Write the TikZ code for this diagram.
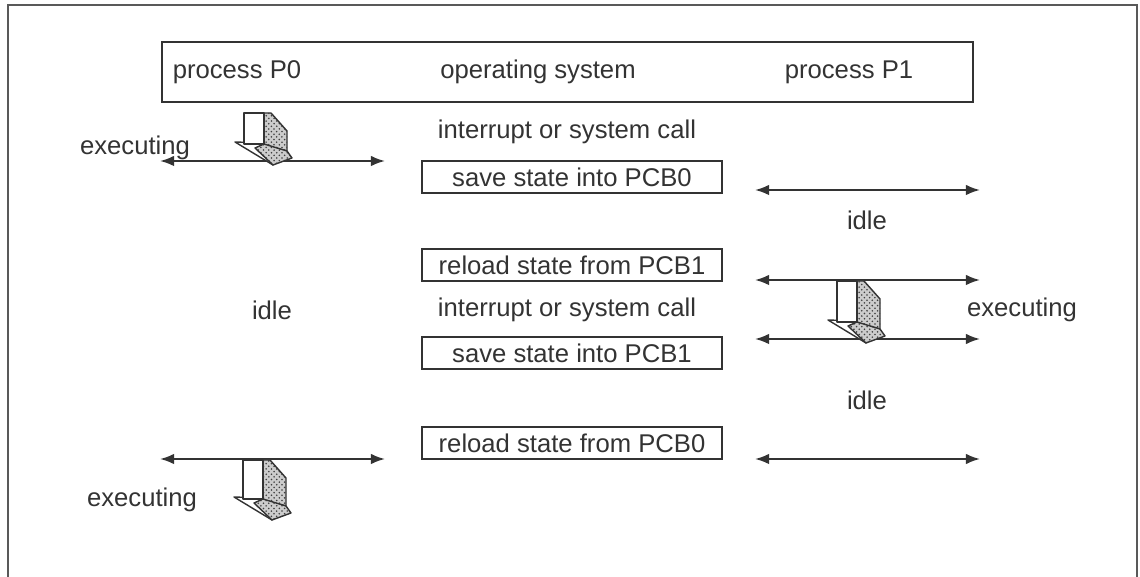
\documentclass[tikz,border=0pt]{standalone}
\usepackage{fontspec}
\setmainfont{Liberation Sans}
\usetikzlibrary{arrows.meta,patterns}
\definecolor{ink}{HTML}{333333}
\tikzset{
  lbl/.style={text=ink, font=\fontsize{14.6}{17}\selectfont, inner sep=0pt},
  osbox/.style={draw=ink, line width=1.1pt, text=ink, font=\fontsize{14.6}{17}\selectfont,
    minimum width=6cm, minimum height=0.64cm, inner sep=0pt},
  span/.style={draw=ink, line width=1.1pt, {Latex[length=8pt,width=6pt]}-{Latex[length=8pt,width=6pt]}},
  front/.style={draw=ink, line width=0.8pt, fill=white, line join=round},
  shadefill/.style={fill=gray!40},
  shadedots/.style={pattern=crosshatch dots, pattern color=black!75},
  shadeline/.style={draw=ink, line width=0.8pt, line join=round},
}
\newcommand{\shadedpoly}[1]{%
  \fill[shadefill] #1; \fill[shadedots] #1; \draw[shadeline] #1;}
\newcommand{\downicon}[3]{% x, y (top-left of shaft), shaft length
  \begin{scope}[shift={(#1,#2)}]
    \shadedpoly{(20,0) -- (27,0) -- (43,18) -- (43,#3+8) -- (20,#3+2) -- cycle}
    \draw[front] (-9,#3-1) -- (20,#3) -- (29,#3+22) -- cycle;
    \shadedpoly{(11,#3+5) -- (20,#3+1) -- (43,#3+8) -- (48,#3+15) -- (29,#3+22) -- cycle}
    \draw[front] (0,0) rectangle (20,#3+1);
  \end{scope}}
\begin{document}
\begin{tikzpicture}[x=0.02cm, y=-0.02cm]
\useasboundingbox (0,0) rectangle (1140,577);
% outer frame (open at bottom)
\draw[gray!70!black, line width=1.6pt] (8,577) -- (8,5) -- (1137,5) -- (1137,577);
% header box
\node[draw=ink, line width=1.1pt, minimum width=16.22cm, minimum height=1.2cm, inner sep=0pt] (hdr) at (567.5,72) {};
\node[lbl] (p0) at (237,72) {process P0};
\node[lbl] (os) at (538,72) {operating system};
\node[lbl] (p1) at (849,72) {process P1};
% OS column
\node[lbl] (int1) at (567,132) {interrupt or system call};
\node[osbox] (save0) at (572,177) {save state into PCB0};
\node[osbox] (load1) at (572,265) {reload state from PCB1};
\node[lbl] (int2) at (567,310) {interrupt or system call};
\node[osbox] (save1) at (572,353) {save state into PCB1};
\node[osbox] (load0) at (572,443) {reload state from PCB0};
% labels
\node[lbl] (exe1) at (135,148) {executing};
\node[lbl] (idle1) at (867,220) {idle};
\node[lbl] (idle2) at (272,310) {idle};
\node[lbl] (exe2) at (1022,310) {executing};
\node[lbl] (idle3) at (867,400) {idle};
\node[lbl] (exe3) at (142,500) {executing};
% span endpoints
\coordinate (a1l) at (160,161); \coordinate (a1r) at (385,161);
\coordinate (b1l) at (755,190); \coordinate (b1r) at (980,190);
\coordinate (b2l) at (755,280); \coordinate (b2r) at (980,280);
\coordinate (b3l) at (755,339); \coordinate (b3r) at (980,339);
\coordinate (a2l) at (160,459); \coordinate (a2r) at (385,459);
\coordinate (b4l) at (755,459); \coordinate (b4r) at (980,459);
\draw[span] (a1l) -- (a1r);
\draw[span] (b1l) -- (b1r);
\draw[span] (b2l) -- (b2r);
\draw[span] (b3l) -- (b3r);
\draw[span] (a2l) -- (a2r);
\draw[span] (b4l) -- (b4r);
% 3D arrows
\downicon{244}{113}{30}
\downicon{837}{281}{40}
\downicon{243}{460}{38}
\end{tikzpicture}
\end{document}
